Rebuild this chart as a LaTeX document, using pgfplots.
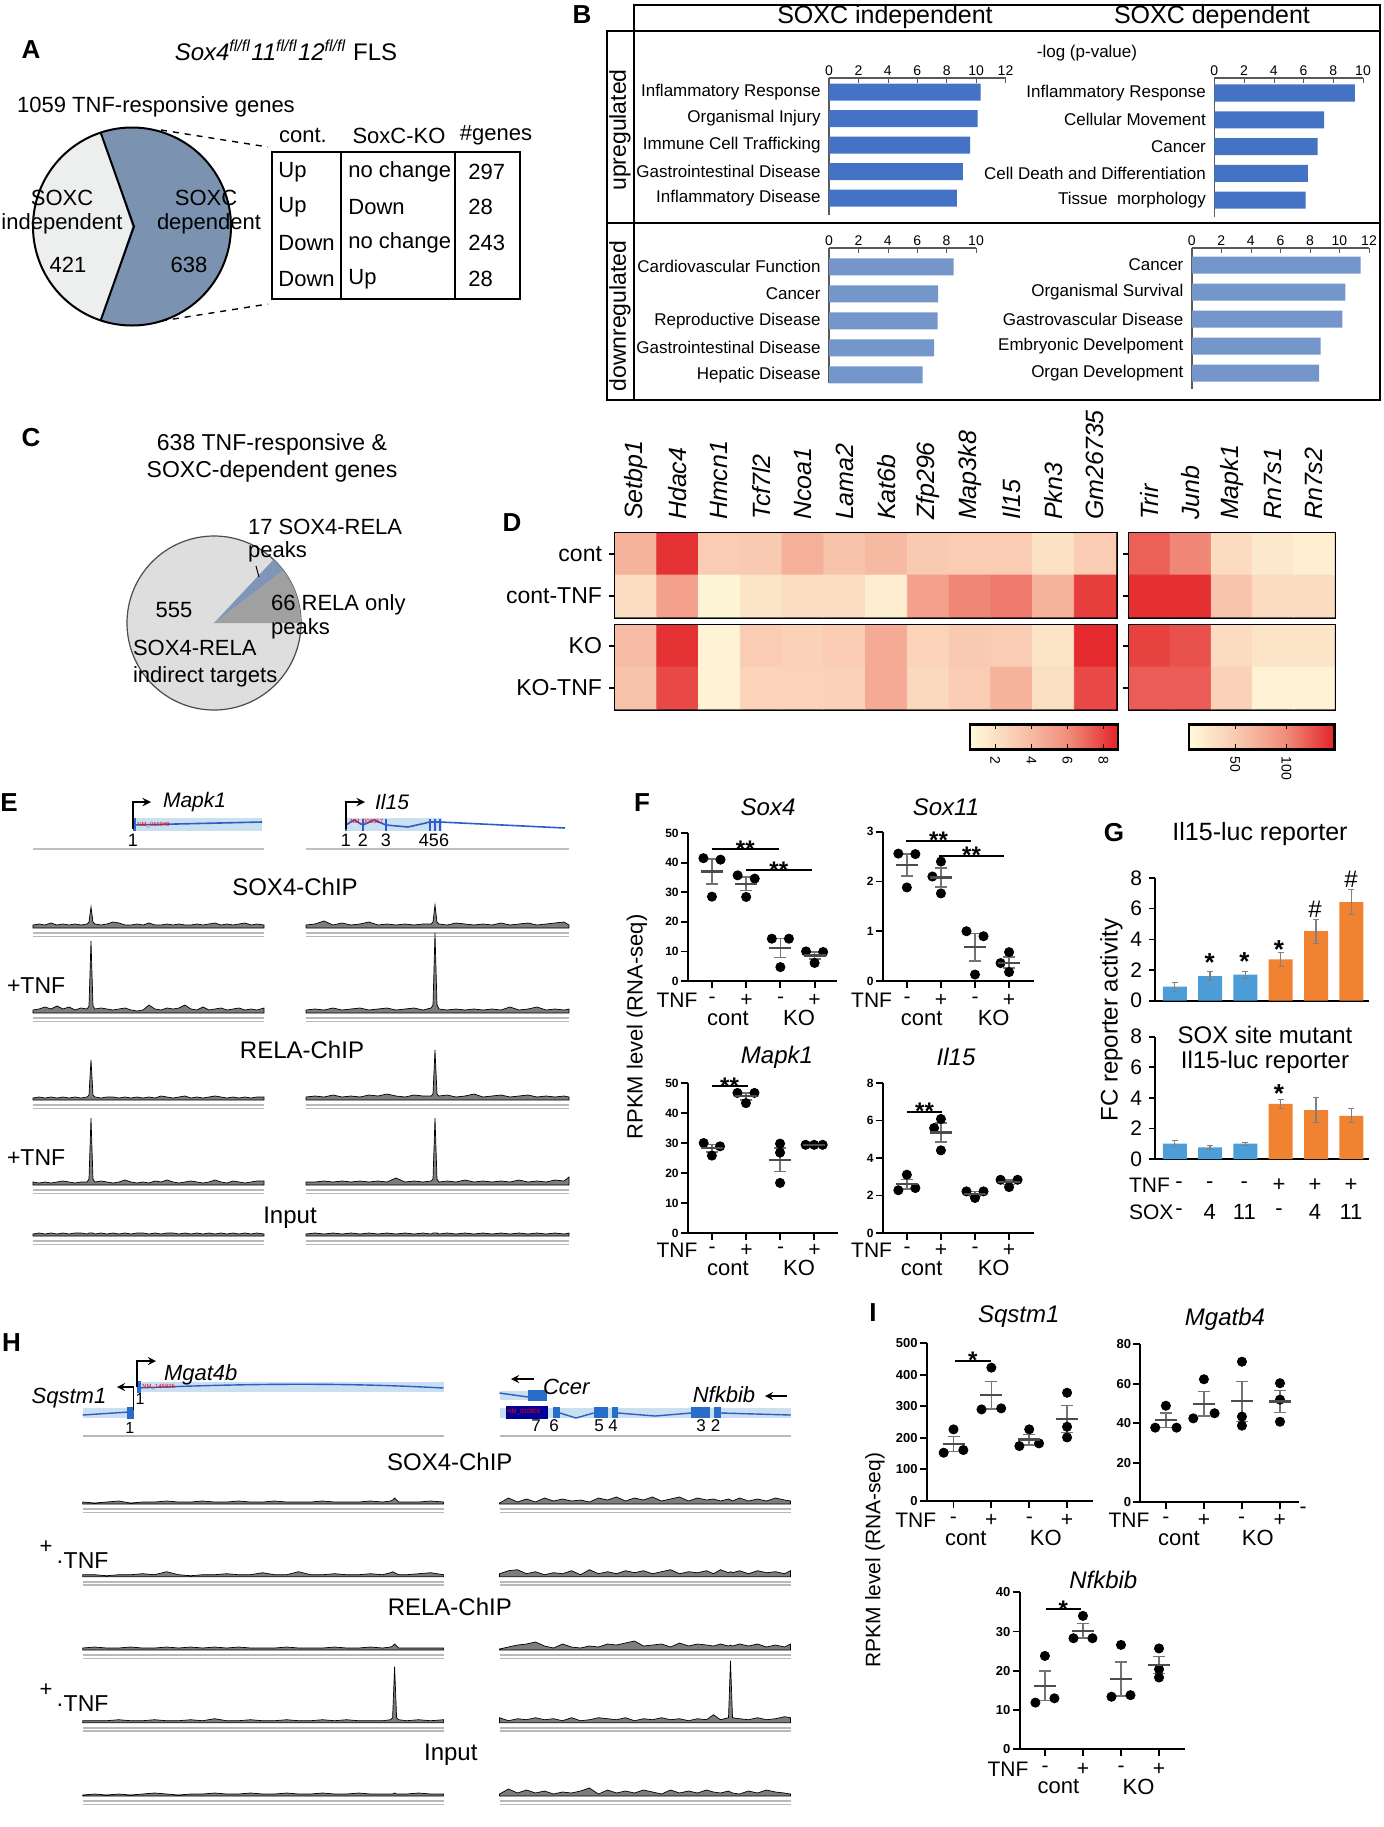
\documentclass[border=0pt]{standalone}
\usepackage{fontspec}
\setmainfont{Liberation Sans}
\usepackage{pgfplots}
\usepackage{pgfplotstable}
\pgfplotsset{compat=1.18}
\pgfkeys{/pgf/number format/assume math mode=true}

\newcommand\fsz[1]{\fontsize{#1}{#1}\selectfont}

\definecolor{pieDark}{RGB}{123,147,176}
\definecolor{pieLight}{RGB}{237,238,238}
\definecolor{cLight}{RGB}{222,222,222}
\definecolor{cGray}{RGB}{160,160,160}
\definecolor{cBlue}{RGB}{127,150,185}
\definecolor{barUp}{RGB}{68,114,196}
\definecolor{barDown}{RGB}{117,150,202}
\definecolor{gBlue}{RGB}{76,157,216}
\definecolor{gOrange}{RGB}{240,130,50}
\definecolor{geneBand}{RGB}{200,224,240}
\definecolor{geneLine}{RGB}{50,90,200}
\definecolor{exon}{RGB}{40,110,200}
\definecolor{trkfill}{RGB}{125,125,125}

\pgfplotsset{
  colormap={heat}{rgb255=(255,250,218) rgb255=(248,200,175) rgb255=(240,140,122) rgb255=(227,35,40)},
  barB/.style={scale only axis, anchor=south west, xbar, bar width=8.5pt, bar shift=0pt,
    xmin=0, axis x line*=top, axis y line*=left,
    axis line style={gray!70!black, line width=0.7pt, -},
    ytick={1,2,3,4,5}, ytick style={draw=none},
    xtick align=inside, major tick length=2.5pt, xtick style={gray!70!black},
    xticklabel style={font=\fsz{7}, inner sep=1pt},
    yticklabel style={font=\fsz{8.5}, inner sep=1.5pt},
    enlargelimits=false, clip=false},
  dot/.style={scale only axis, anchor=south west, axis x line*=bottom, axis y line*=left,
    axis line style={line width=1pt, -}, xtick={0,1,2,3}, xticklabels={},
    tick align=outside, major tick length=3.5pt, tick style={black, line width=0.9pt},
    yticklabel style={font=\bfseries\fsz{6}, inner sep=1pt},
    ymin=0, clip=false, enlargelimits=false},
  pts/.style={only marks, mark=*, mark size=2.3pt, black},
  msem/.style={only marks, mark=-, mark size=5.5pt, mark options={line width=1.1pt, black!70},
    error bars/.cd, y dir=both, y explicit,
    error bar style={line width=0.8pt, black!55},
    error mark options={rotate=90, mark size=3pt, line width=0.8pt, black!55}},
  gbar/.style={scale only axis, anchor=south west, axis x line*=bottom, axis y line*=left,
    axis line style={line width=0.8pt, -}, ymin=0, ymax=8, ytick={0,2,4,6,8},
    xmin=-0.56, xmax=5.5, xtick=\empty, tick align=outside, major tick length=3pt,
    ytick style={black, line width=0.8pt}, yticklabel style={font=\fsz{10.5}},
    enlargelimits=false, clip=false},
  gb/.style={ybar, bar width=12pt, bar shift=0pt, draw=none,
    error bars/.cd, y dir=both, y explicit,
    error bar style={black!50, line width=0.6pt},
    error mark options={rotate=90, black!50, mark size=1.5pt}},
  trk/.style={hide axis, scale only axis, anchor=south west, xmin=0, ymin=0, ymax=80,
    height=40pt, clip=false},
  heat/.style={scale only axis, anchor=south west, enlargelimits=false, xmin=-0.5,
    ymin=-0.5, ymax=1.5, y dir=reverse, axis line style={line width=1.5pt},
    colormap name=heat, ytick={0,1}, ytick pos=left, yticklabel style={font=\fsz{11.5}},
    ytick style={black, line width=0.8pt}, tick align=outside, major tick length=3pt,
    xtick=\empty},
}

% ChIP tracks, heights in pixels
\pgfplotstableread{
x s1 s2 r1 r2 inp
0 3 3 2 3 2
6 4 4 3 2 3
12 3 6 2 3 2
18 5 4 3 2 3
24 3 7 2 3 2
30 4 4 3 4 3
36 3 6 2 3 2
42 4 3 3 2 3
48 3 5 2 3 3
54 4 4 3 3 2
56 6 7 5 6 3
58 21 72 40 67 3
60 6 7 5 6 3
62 4 4 3 3 2
68 3 5 2 4 3
74 4 4 3 3 2
80 6 3 3 2 3
86 5 4 2 3 2
92 3 5 3 5 3
98 3 3 2 3 2
104 4 2 3 2 3
110 3 3 2 3 3
116 5 8 3 2 2
122 3 4 2 4 3
128 3 3 4 3 2
134 4 5 3 5 3
140 3 4 2 3 3
146 4 5 3 2 2
152 3 8 4 3 3
158 3 4 2 4 2
164 4 3 3 3 3
170 3 6 2 2 2
176 4 3 3 3 3
182 5 4 4 5 2
188 3 5 3 3 3
194 4 3 2 2 2
200 3 4 3 4 3
206 4 5 2 3 2
212 5 3 3 2 3
218 3 4 2 3 2
224 4 3 3 4 3
231 3 5 3 4 2
}\EL
\pgfplotstableread{
x s1 s2 r1 r2 inp
0 3 3 3 3 2
9 4 4 4 3 3
18 7 3 3 4 2
27 3 5 5 3 3
36 5 3 3 4 2
45 3 4 4 3 3
54 4 5 3 4 2
63 6 3 5 3 3
72 3 4 4 4 2
81 4 5 6 3 3
90 3 3 4 7 2
99 4 4 3 3 3
108 3 5 5 4 2
117 4 3 4 3 3
125 4 5 4 4 2
127 6 8 6 6 3
129 23 80 50 67 3
131 6 8 6 6 3
133 4 4 4 3 2
141 3 3 5 4 3
150 5 4 3 3 2
159 4 3 4 5 3
168 3 4 6 3 2
177 4 3 3 4 3
186 3 4 4 3 2
195 5 3 5 4 3
204 3 6 3 3 2
213 4 3 4 5 3
222 5 4 5 3 2
231 3 6 3 4 3
240 4 3 4 3 2
249 5 4 3 5 3
258 6 3 4 4 2
263 3 4 3 8 3
}\ER
\pgfplotstableread{
x s1 s2 r1 r2 inp
0 2 2 2 2 1
12 1 2 3 2 2
24 2 1 2 2 1
36 3 2 2 3 2
48 1 2 3 2 1
60 2 3 2 2 2
72 2 2 2 3 3
84 3 5 3 2 2
96 2 2 2 2 1
108 2 1 3 3 2
120 3 2 2 2 2
132 2 2 3 4 3
144 2 3 2 2 2
156 3 2 3 2 2
168 2 2 2 3 3
180 2 4 2 2 2
192 3 2 2 2 2
204 2 2 3 3 3
216 2 5 2 2 2
228 2 2 2 2 2
240 3 2 2 3 3
252 2 3 3 2 2
264 2 2 2 3 2
276 2 2 2 2 3
288 3 3 3 2 2
300 2 2 2 2 2
308 3 4 3 3 2
310 4 5 4 5 2
312 6 4 6 56 3
314 4 3 4 5 2
316 2 2 2 3 2
324 2 2 2 2 2
336 2 3 2 3 3
348 3 4 2 2 2
361 2 2 2 3 2
}\HL
\pgfplotstableread{
x s1 s2 r1 r2 inp
0 1 3 1 5 2
9 6 6 3 2 7
18 2 7 5 4 3
27 5 3 6 3 6
36 2 5 8 5 3
45 6 2 4 3 5
54 3 4 2 4 2
63 5 3 6 2 4
72 3 6 3 5 3
81 4 2 2 2 5
90 2 7 4 3 8
99 6 3 3 5 2
108 4 5 6 4 6
117 7 3 5 3 3
126 3 6 7 5 5
135 6 4 9 2 3
144 4 6 4 4 6
153 7 3 5 3 4
162 3 5 6 5 2
171 5 7 3 3 6
180 7 3 7 4 3
189 3 5 4 2 5
198 6 4 6 4 3
207 4 6 5 3 6
214 5 3 4 8 4
221 3 7 6 3 3
229 5 4 4 5 5
231 4 5 5 62 4
233 3 4 4 5 3
240 6 6 6 4 2
249 3 3 4 3 5
258 5 6 6 5 3
267 3 4 3 3 6
276 6 5 5 4 4
285 4 3 3 6 3
291 3 6 6 5 2
}\HR

% heat map values
\pgfplotstableread{
x y c
0 0 4.3
1 0 8.4
2 0 3.1
3 0 3.2
4 0 4.4
5 0 3.6
6 0 4.0
7 0 3.2
8 0 3.1
9 0 3.1
10 0 1.9
11 0 3.1
0 1 2.2
1 1 5.1
2 1 0.85
3 1 1.8
4 1 2.2
5 1 2.2
6 1 1.3
7 1 5.1
8 1 6.2
9 1 6.5
10 1 4.3
11 1 8.1
}\HLt
\pgfplotstableread{
x y c
0 0 3.9
1 0 8.4
2 0 1.0
3 0 3.1
4 0 2.8
5 0 3.1
6 0 4.7
7 0 2.7
8 0 3.2
9 0 3.1
10 0 1.8
11 0 8.6
0 1 3.6
1 1 7.8
2 1 1.0
3 1 2.7
4 1 2.7
5 1 2.8
6 1 4.7
7 1 2.4
8 1 3.1
9 1 4.3
10 1 2.1
11 1 7.8
}\HLb
\pgfplotstableread{
x y c
0 0 119
1 0 102
2 0 33
3 0 22
4 0 15
0 1 141
1 1 141
2 1 55
3 1 33
4 1 33
}\HRt
\pgfplotstableread{
x y c
0 0 133
1 0 126
2 0 33
3 0 26
4 0 26
0 1 121
1 1 121
2 1 43
3 1 11
4 1 11
}\HRb

\newcommand\track[6]{%
  \begin{axis}[trk, at={({#1*0.5pt},{-#2*0.5pt})}, xmax=#3, width=#4pt]
    \addplot[fill=trkfill, draw=black, line width=0.35pt] table[x=x,y=#6]{#5} \closedcycle;
    \addplot[gray!55, line width=0.8pt] coordinates {(0,-5) (#3,-5)};
    \addplot[gray!55, line width=0.8pt] coordinates {(0,-8.5) (#3,-8.5)};
  \end{axis}}
\newcommand\signs[5]{%
  \node[font=\fsz{10.5}] at (#1,#5) {-};
  \node[font=\fsz{10.5}] at (#2,#5) {+};
  \node[font=\fsz{10.5}] at (#3,#5) {-};
  \node[font=\fsz{10.5}] at (#4,#5) {+};}
\newcommand\sig[4]{%
  \draw[line width=1pt] (#1,#3) -- (#2,#3);
  \node[font=\bfseries\fsz{12}, anchor=base] at ({(#1+#2)/2},{#3+8}) {#4};}

\begin{document}
\begin{tikzpicture}[x=0.5pt,y=-0.5pt]
\useasboundingbox (0,0) rectangle (1383,1827);

% ================= A
\node[font=\bfseries\fsz{13}] at (31,50) {A};
\node[font=\fsz{12}] at (286,50) {\textit{Sox4}\textsuperscript{\textit{fl/fl}}\textit{11}\textsuperscript{\textit{fl/fl}}\textit{12}\textsuperscript{\textit{fl/fl}} FLS};
\node[font=\fsz{11}] at (156,107) {1059 TNF-responsive genes};
\pgfmathsetmacro\aL{180-180*(421/1059)}
\pgfmathsetmacro\aR{180+180*(421/1059)}
\pgfmathsetmacro\aLL{\aL+360}
\begin{axis}[hide axis, scale only axis, anchor=south west, at={({33*0.5pt},{-325.5*0.5pt})}, width=99pt, height=99pt,
  xmin=-1, xmax=1, ymin=-1, ymax=1, clip=false]
  \addplot[draw=none, forget plot] coordinates {(0,0)};
  \fill[pieDark] (0,0) -- ({cos(\aR)},{sin(\aR)}) arc[start angle=\aR, end angle=\aLL, radius=49.5pt] -- cycle;
  \fill[pieLight] (0,0) -- ({cos(\aL)},{sin(\aL)}) arc[start angle=\aL, end angle=\aR, radius=49.5pt] -- cycle;
  \draw[line width=1pt] (0,0) circle[radius=49.5pt];
  \draw[line width=1pt] ({cos(\aL)},{sin(\aL)}) -- (0.02,0) -- ({cos(\aR)},{sin(\aR)});
\end{axis}
\node[font=\fsz{11}] at (62,198) {SOXC};
\node[font=\fsz{11}] at (62,224) {independent};
\node[font=\fsz{11}] at (68,265) {421};
\node[font=\fsz{11}] at (206,198) {SOXC};
\node[font=\fsz{11}] at (209,224) {dependent};
\node[font=\fsz{11}] at (189,265) {638};
\draw[dashed, line width=0.7pt] (161,130) -- (268,147);
\draw[dashed, line width=0.7pt] (161,321) -- (268,304);
\draw[line width=0.9pt] (272,152) rectangle (520,299);
\draw[line width=0.7pt] (341,152) -- (341,299);
\draw[line width=0.7pt] (455,152) -- (455,299);
\node[font=\fsz{11}] at (303,135) {cont.};
\node[font=\fsz{11}] at (399,136) {SoxC-KO};
\node[font=\fsz{11}] at (496,135) {\#genes};
\foreach \yy/\a/\b/\c in {172/Up/no change/297, 207/Up/Down/28, 243/Down/no change/243, 279/Down/Up/28}{
  \node[font=\fsz{11}, anchor=west, inner sep=0pt] at (278,\yy) {\a};
  \node[font=\fsz{11}, anchor=west, inner sep=0pt] at (348,\yy) {\b};
  \node[font=\fsz{11}, anchor=west, inner sep=0pt] at (468,\yy) {\c};
}

% ================= B
\node[font=\bfseries\fsz{13}] at (582,15) {B};
\draw[line width=1pt] (634,5) rectangle (1380,31);
\draw[line width=1pt] (607,31) rectangle (1380,400);
\draw[line width=1pt] (634,31) -- (634,400);
\draw[line width=1pt] (607,223) -- (1380,223);
\node[font=\fsz{12.5}] at (885,17) {SOXC independent};
\node[font=\fsz{12.5}] at (1212,17) {SOXC dependent};
\node[font=\fsz{11.5}, rotate=90] at (620,130) {upregulated};
\node[font=\fsz{11.5}, rotate=90] at (620,316) {downregulated};
\node[font=\fsz{8.5}] at (1087,53) {-log (p-value)};

\begin{axis}[barB, at={({829*0.5pt},{-215*0.5pt})}, width=88.25pt, height=68.5pt, xmax=12, xtick={0,2,...,12},
  ymin=0.36, ymax=5.53,
  yticklabels={Inflammatory Disease,Gastrointestinal Disease,Immune Cell Trafficking,Organismal Injury,Inflammatory Response}]
  \addplot[fill=barUp, draw=none] coordinates {(10.3,5) (10.1,4) (9.6,3) (9.1,2) (8.7,1)};
\end{axis}
\begin{axis}[barB, at={({1214.3*0.5pt},{-216.7*0.5pt})}, width=74.35pt, height=69.35pt, xmax=10, xtick={0,2,...,10},
  ymin=0.38, ymax=5.56,
  yticklabels={Tissue\ \ morphology,Cell Death and Differentiation,Cancer,Cellular Movement,Inflammatory Response}]
  \addplot[fill=barUp, draw=none] coordinates {(9.46,5) (7.38,4) (6.95,3) (6.3,2) (6.14,1)};
\end{axis}
\begin{axis}[barB, at={({829*0.5pt},{-383*0.5pt})}, width=73.5pt, height=67.5pt, xmax=10, xtick={0,2,...,10},
  ymin=0.7, ymax=5.7,
  yticklabels={Hepatic Disease,Gastrointestinal Disease,Reproductive Disease,Cancer,Cardiovascular Function}]
  \addplot[fill=barDown, draw=none] coordinates {(8.47,5) (7.42,4) (7.39,3) (7.15,2) (6.37,1)};
\end{axis}
\begin{axis}[barB, at={({1191.8*0.5pt},{-389*0.5pt})}, width=88.6pt, height=70.5pt, xmax=12, xtick={0,2,...,12},
  ymin=0.41, ymax=5.63,
  yticklabels={Organ Development,Embryonic Develpoment,Gastrovascular Disease,Organismal Survival,Cancer}]
  \addplot[fill=barDown, draw=none] coordinates {(11.43,5) (10.4,4) (10.2,3) (8.72,2) (8.62,1)};
\end{axis}

% ================= C
\node[font=\bfseries\fsz{13}] at (31,438) {C};
\node[font=\fsz{11.5}] at (272,445) {638 TNF-responsive \&};
\node[font=\fsz{11.5}] at (272,472) {SOXC-dependent genes};
\pgfmathsetmacro\cg{360*(66/638)}
\pgfmathsetmacro\cb{\cg+360*(17/638)}
\begin{axis}[hide axis, scale only axis, anchor=south west, at={({127*0.5pt},{-710*0.5pt})}, width=87pt, height=87pt,
  xmin=-1, xmax=1, ymin=-1, ymax=1, clip=false]
  \addplot[draw=none, forget plot] coordinates {(0,0)};
  \fill[cLight, draw=gray!60!black, line width=0.6pt] (0,0) circle[radius=43.5pt];
  \fill[cGray] (0,0) -- (1,0) arc[start angle=0, end angle=\cg, radius=43.5pt] -- cycle;
  \fill[cBlue] (0,0) -- ({cos(\cg)},{sin(\cg)}) arc[start angle=\cg, end angle=\cb, radius=43.5pt] -- cycle;
\end{axis}
\node[font=\fsz{11}, anchor=west] at (241,527) {17 SOX4-RELA};
\node[font=\fsz{11}, anchor=west] at (241,552) {peaks};
\draw[line width=0.5pt] (256,566) -- (259,577);
\node[font=\fsz{11}, anchor=west] at (264,605) {66 RELA only};
\node[font=\fsz{11}, anchor=west] at (264,629) {peaks};
\node[font=\fsz{11}] at (174,610) {555};
\node[font=\fsz{11}, anchor=west] at (126,648) {SOX4-RELA};
\node[font=\fsz{11}, anchor=west] at (126,677) {indirect targets};

% ================= D
\node[font=\bfseries\fsz{13}] at (512,523) {D};
\begin{axis}[heat, at={({615*0.5pt},{-617*0.5pt})}, width=250.5pt, height=42pt, xmax=11.5,
  point meta min=0.6, point meta max=8.8,
  xtick={0,...,11}, xticklabel pos=upper, xtick style={draw=none},
  xticklabels={Setbp1,Hdac4,Hmcn1,Tcf7l2,Ncoa1,Lama2,Kat6b,Zfp296,Map3k8,Il15,Pkn3,Gm26735},
  xticklabel style={rotate=90, anchor=west, font=\itshape\fsz{12.5}},
  yticklabels={cont,cont-TNF}]
  \addplot[matrix plot*, mesh/cols=12, point meta=explicit] table[meta=c]{\HLt};
\end{axis}
\begin{axis}[heat, at={({615*0.5pt},{-709*0.5pt})}, width=250.5pt, height=42pt, xmax=11.5,
  point meta min=0.6, point meta max=8.8, yticklabels={KO,KO-TNF},
  colorbar horizontal,
  colorbar style={at={(parent axis.south west)}, anchor=north west, xshift=177.5pt, yshift=0.8pt,
    width=74pt, height=12.5pt, xtick={2,4,6,8},
    xticklabel style={rotate=-90, anchor=west, font=\fsz{7}},
    axis line style={line width=1.2pt}, tick align=inside, major tick length=2.5pt,
    xtick style={black}}]
  \addplot[matrix plot*, mesh/cols=12, point meta=explicit] table[meta=c]{\HLb};
\end{axis}
\begin{axis}[heat, at={({1129*0.5pt},{-617*0.5pt})}, width=102.75pt, height=42pt, xmax=4.5,
  point meta min=5, point meta max=147,
  xtick={0,...,4}, xticklabel pos=upper, xtick style={draw=none},
  xticklabels={Trir,Junb,Mapk1,Rn7s1,Rn7s2},
  xticklabel style={rotate=90, anchor=west, font=\itshape\fsz{12.5}},
  yticklabels={}]
  \addplot[matrix plot*, mesh/cols=5, point meta=explicit] table[meta=c]{\HRt};
\end{axis}
\begin{axis}[heat, at={({1129*0.5pt},{-709*0.5pt})}, width=102.75pt, height=42pt, xmax=4.5,
  point meta min=5, point meta max=147, yticklabels={},
  colorbar horizontal,
  colorbar style={at={(parent axis.south west)}, anchor=north west, xshift=30pt, yshift=0.8pt,
    width=72.75pt, height=12.5pt, xtick={50,100},
    xticklabel style={rotate=-90, anchor=west, font=\fsz{7}},
    axis line style={line width=1.2pt}, tick align=inside, major tick length=2.5pt,
    xtick style={black}}]
  \addplot[matrix plot*, mesh/cols=5, point meta=explicit] table[meta=c]{\HRb};
\end{axis}

% ================= E
\node[font=\bfseries\fsz{13}] at (9,803) {E};
% Mapk1 gene
\fill[geneBand] (133,818) rectangle (262,831);
\draw[geneLine, line width=0.8pt] (133,825) -- (262,822);
\fill[exon] (133,818) rectangle (136,831);
\node[font=\fsz{3}, text=red, anchor=west, inner sep=0pt] at (137,825) {NM\_011949};
\draw[line width=0.9pt, -stealth] (133,829) -- (133,802) -- (151,802);
\node[font=\itshape\fsz{10.5}, anchor=west] at (156,802) {Mapk1};
\node[font=\fsz{9}] at (133,840) {1};
\draw[gray!50, line width=1pt] (33,849) -- (264,849);
% Il15 gene
\fill[geneBand] (346,818) rectangle (442,831);
\draw[geneLine, line width=0.8pt] (346,825) -- (354,820) -- (363,825) -- (374,820) -- (386,825) -- (408,827) -- (430,822) -- (440,822) -- (565,828);
\draw[geneLine, line width=1pt] (346,819) -- (346,831) (363,819) -- (363,831) (386,819) -- (386,831)
  (430,819) -- (430,831) (435,819) -- (435,831) (440,819) -- (440,831);
\node[font=\fsz{3}, text=red, anchor=west, inner sep=0pt] at (350,822) {NM\_008357};
\draw[line width=0.9pt, -stealth] (346,829) -- (346,802) -- (365,802);
\node[font=\itshape\fsz{10.5}] at (392,802) {Il15};
\node[font=\fsz{9}] at (346,840) {1};
\node[font=\fsz{9}] at (363,840) {2};
\node[font=\fsz{9}] at (386,840) {3};
\node[font=\fsz{9}] at (434,840) {456};
\draw[gray!50, line width=1pt] (306,849) -- (569,849);
\node[font=\fsz{12}] at (295,887) {SOX4-ChIP};
\node[font=\fsz{12}] at (302,1050) {RELA-ChIP};
\node[font=\fsz{12}] at (290,1218) {Input};
\node[font=\fsz{11.5}, anchor=west] at (0,986) {+TNF};
\node[font=\fsz{11.5}, anchor=west] at (0,1158) {+TNF};
\track{33}{928}{231}{115.5}{\EL}{s1}
\track{306}{928}{263}{131.5}{\ER}{s1}
\track{33}{1013}{231}{115.5}{\EL}{s2}
\track{306}{1013}{263}{131.5}{\ER}{s2}
\track{33}{1100}{231}{115.5}{\EL}{r1}
\track{306}{1100}{263}{131.5}{\ER}{r1}
\track{33}{1185}{231}{115.5}{\EL}{r2}
\track{306}{1185}{263}{131.5}{\ER}{r2}
\track{33}{1236}{231}{115.5}{\EL}{inp}
\track{306}{1236}{263}{131.5}{\ER}{inp}

% ================= F
\node[font=\bfseries\fsz{13}] at (642,803) {F};
\node[font=\itshape\fsz{12}] at (768,807) {Sox4};
\node[font=\itshape\fsz{12}] at (946,807) {Sox11};
\node[font=\itshape\fsz{12}] at (777,1057) {Mapk1};
\node[font=\itshape\fsz{12}] at (956,1057) {Il15};
\node[font=\fsz{11}, rotate=90] at (637,1027) {RPKM level (RNA-seq)};

\begin{axis}[dot, at={({688*0.5pt},{-981*0.5pt})}, width=74.25pt, height=74pt, xmin=-0.7, xmax=3.64, ymax=50, ytick={0,10,...,50}]
  \addplot[pts] coordinates {(-0.25,41.5) (0.25,41) (0,28.5) (0.75,35.7) (1.25,34.6) (1,28.4)
    (1.75,14.3) (2.25,14.3) (2,4.7) (2.75,10) (3.25,9.8) (3,6.1)};
  \addplot[msem] coordinates {(0,37.0) +- (0,4.25) (1,32.9) +- (0,2.27) (2,11.1) +- (0,3.2) (3,8.63) +- (0,1.27)};
\end{axis}
\begin{axis}[dot, at={({883*0.5pt},{-981*0.5pt})}, width=75.3pt, height=74.65pt, xmin=-0.7, xmax=3.72, ymax=3, ytick={0,1,2,3}]
  \addplot[pts] coordinates {(-0.25,2.56) (0.25,2.55) (0,1.88) (1,2.4) (0.75,2.1) (1,1.76)
    (1.75,1.0) (2.25,0.9) (2,0.13) (3,0.58) (2.75,0.36) (3,0.18)};
  \addplot[msem] coordinates {(0,2.33) +- (0,0.225) (1,2.08) +- (0,0.188) (2,0.68) +- (0,0.275) (3,0.37) +- (0,0.11)};
\end{axis}
\begin{axis}[dot, at={({688*0.5pt},{-1233*0.5pt})}, width=75pt, height=75pt, xmin=-0.7, xmax=3.7, ymax=50, ytick={0,10,...,50}]
  \addplot[pts] coordinates {(-0.24,30) (0.24,28.9) (0,25.8) (0.75,46.7) (1.25,46.7) (1,43.3)
    (2,29.8) (2,26.8) (2,16.7) (2.75,29.4) (3,29.4) (3.25,29.4)};
  \addplot[msem] coordinates {(0,28.23) +- (0,1.26) (1,45.57) +- (0,1.13) (2,24.43) +- (0,3.96) (3,29.4) +- (0,0.12)};
\end{axis}
\begin{axis}[dot, at={({883*0.5pt},{-1233*0.5pt})}, width=75.3pt, height=75pt, xmin=-0.7, xmax=3.72, ymax=8, ytick={0,2,...,8}]
  \addplot[pts] coordinates {(0,3.11) (-0.25,2.28) (0.25,2.4) (1,6.08) (0.8,5.6) (1,4.41)
    (1.75,2.22) (2.25,2.22) (2,1.87) (2.75,2.84) (3.25,2.84) (3,2.45)};
  \addplot[msem] coordinates {(0,2.6) +- (0,0.26) (1,5.36) +- (0,0.5) (2,2.1) +- (0,0.12) (3,2.71) +- (0,0.13)};
\end{axis}
\sig{712}{778.5}{849}{**}
\sig{745.5}{812}{870}{**}
\sig{906}{971}{840.7}{**}
\sig{939}{1004}{855.7}{**}
\sig{711.5}{747.5}{1086}{**}
\sig{907}{942}{1111.7}{**}
\node[font=\fsz{10.5}] at (677,1000) {TNF};
\signs{712}{746.5}{780.6}{814.6}{1000}
\node[font=\fsz{11}] at (728,1018) {cont};
\node[font=\fsz{11}] at (799,1018) {KO};
\node[font=\fsz{10.5}] at (871.6,1000) {TNF};
\signs{907}{941}{975}{1009}{1000}
\node[font=\fsz{11}] at (921.7,1018) {cont};
\node[font=\fsz{11}] at (993.7,1018) {KO};
\node[font=\fsz{10.5}] at (677,1250) {TNF};
\signs{712}{746.5}{780.6}{814.6}{1250}
\node[font=\fsz{11}] at (728,1268) {cont};
\node[font=\fsz{11}] at (799,1268) {KO};
\node[font=\fsz{10.5}] at (871.6,1250) {TNF};
\signs{907}{941}{975}{1009}{1250}
\node[font=\fsz{11}] at (921.7,1268) {cont};
\node[font=\fsz{11}] at (993.7,1268) {KO};

% ================= G
\node[font=\bfseries\fsz{13}] at (1114,833) {G};
\node[font=\fsz{12.5}] at (1260,834) {Il15-luc reporter};
\node[font=\fsz{12}] at (1265,1035) {SOX site mutant};
\node[font=\fsz{12}] at (1265,1062) {Il15-luc reporter};
\node[font=\fsz{12}, rotate=90] at (1111.5,1020) {FC reporter activity};
\begin{axis}[gbar, at={({1155*0.5pt},{-1000.7*0.5pt})}, width=107pt, height=61.35pt]
  \addplot[fill=gBlue, gb] coordinates {(0,0.92) +- (0,0.3) (1,1.61) +- (0,0.28) (2,1.7) +- (0,0.24)};
  \addplot[fill=gOrange, gb] coordinates {(3,2.7) +- (0,0.44) (4,4.53) +- (0,0.8) (5,6.43) +- (0,0.8)};
\end{axis}
\begin{axis}[gbar, at={({1155*0.5pt},{-1159*0.5pt})}, width=107pt, height=61.15pt]
  \addplot[fill=gBlue, gb] coordinates {(0,1.0) +- (0,0.2) (1,0.76) +- (0,0.15) (2,1.0) +- (0,0.1)};
  \addplot[fill=gOrange, gb] coordinates {(3,3.6) +- (0,0.28) (4,3.2) +- (0,0.8) (5,2.83) +- (0,0.45)};
\end{axis}
\node[font=\bfseries\fsz{13}, anchor=base] at (1209.7,971) {*};
\node[font=\bfseries\fsz{13}, anchor=base] at (1244.4,970) {*};
\node[font=\bfseries\fsz{13}, anchor=base] at (1279,958) {*};
\node[font=\fsz{12}, anchor=base] at (1315,917) {\#};
\node[font=\fsz{12}, anchor=base] at (1351,887) {\#};
\node[font=\bfseries\fsz{13}, anchor=base] at (1279,1102.7) {*};
\node[font=\fsz{10.5}, anchor=west] at (1122,1185) {TNF};
\node[font=\fsz{10.5}, anchor=west] at (1122,1212) {SOX};
\foreach \xx/\t/\s in {1179/-/-, 1209.7/-/4, 1244.4/-/11, 1279/+/-, 1315/+/4, 1351/+/11}{
  \node[font=\fsz{11}] at (\xx,1185) {\t};
  \node[font=\fsz{11}] at (\xx,1212) {\s};
}

% ================= H
\node[font=\bfseries\fsz{13}] at (11.5,1343) {H};
\draw[gray!55, line width=1pt] (82.6,1436) -- (443.5,1436);
\fill[geneBand] (82.6,1408) rectangle (133.4,1418);
\draw[geneLine, line width=0.7pt] (82.6,1415) -- (129,1412);
\fill[exon] (127,1407) rectangle (134,1419);
\node[font=\fsz{8}] at (129.7,1428) {1};
\node[font=\itshape\fsz{11}] at (69,1398) {Sqstm1};
\draw[line width=0.8pt, -stealth] (133.4,1410) -- (133.4,1387) -- (117,1387);
\fill[geneBand] (137,1382) rectangle (443.5,1392);
\draw[geneLine, line width=0.7pt] (137,1388) .. controls (260,1383) and (350,1383) .. (443.5,1388);
\fill[exon] (137,1381) rectangle (141,1393);
\node[font=\fsz{3}, text=red, anchor=west, inner sep=0pt] at (142,1387) {NM\_145926};
\draw[line width=0.8pt, -stealth] (137,1387) -- (137,1361) -- (156,1361);
\node[font=\itshape\fsz{11}, anchor=west] at (157,1375) {Mgat4b};
\node[font=\fsz{8}] at (140,1399) {1};
\draw[gray!55, line width=1pt] (499.5,1436) -- (790.8,1436);
\fill[geneBand] (499.5,1391) rectangle (546.6,1400);
\draw[geneLine, line width=0.7pt] (499.5,1393) -- (528,1397);
\fill[exon] (528,1390) rectangle (547,1401);
\draw[line width=0.8pt, -stealth] (533.5,1379) -- (511,1379);
\node[font=\itshape\fsz{11}, anchor=west] at (536,1387) {Ccer};
\fill[geneBand] (499.5,1408) rectangle (790.8,1418);
\draw[geneLine, line width=0.7pt] (560,1413) -- (576,1418) -- (593.6,1413) (618,1413) -- (655,1416) -- (691,1413) (721,1413) -- (790.8,1415);
\fill[blue!60!black] (506,1406) rectangle (548,1419);
\node[font=\fsz{3}, text=red, anchor=west, inner sep=0pt] at (507,1412) {NM\_010908};
\fill[exon] (553,1407) rectangle (560,1418);
\fill[exon] (593.6,1407) rectangle (607.7,1418);
\fill[exon] (612,1407) rectangle (618,1418);
\fill[exon] (691,1407) rectangle (710,1418);
\fill[exon] (714,1407) rectangle (721,1418);
\foreach \xx/\n in {536/7, 554/6, 599/5, 613/4, 701/3, 715.5/2}{
  \node[font=\fsz{8.5}] at (\xx,1426) {\n};
}
\node[font=\itshape\fsz{11}] at (724,1395) {Nfkbib};
\draw[line width=0.8pt, -stealth] (787,1396) -- (765,1396);
\node[font=\fsz{12}] at (449.8,1461.7) {SOX4-ChIP};
\node[font=\fsz{12}] at (449.8,1606.7) {RELA-ChIP};
\node[font=\fsz{12}] at (450.8,1755) {Input};
\node[font=\fsz{11}] at (46,1546.7) {+};
\node[font=\fsz{11.5}, anchor=west] at (49,1561) {·TNF};
\node[font=\fsz{11}] at (46,1690) {+};
\node[font=\fsz{11.5}, anchor=west] at (49,1704) {·TNF};
\track{82.6}{1504}{361}{180.5}{\HL}{s1}
\track{499.5}{1504}{291}{145.5}{\HR}{s1}
\track{82.6}{1576.7}{361}{180.5}{\HL}{s2}
\track{499.5}{1576.7}{291}{145.5}{\HR}{s2}
\track{82.6}{1650}{361}{180.5}{\HL}{r1}
\track{499.5}{1650}{291}{145.5}{\HR}{r1}
\track{82.6}{1722.7}{361}{180.5}{\HL}{r2}
\track{499.5}{1722.7}{291}{145.5}{\HR}{r2}
\track{82.6}{1796}{361}{180.5}{\HL}{inp}
\track{499.5}{1796}{291}{145.5}{\HR}{inp}

% ================= I
\node[font=\bfseries\fsz{13}] at (873,1313) {I};
\node[font=\itshape\fsz{12}] at (1018.7,1317) {Sqstm1};
\node[font=\itshape\fsz{12}] at (1225,1319) {Mgatb4};
\node[font=\itshape\fsz{12}] at (1103.3,1580) {Nfkbib};
\node[font=\fsz{10.5}, rotate=90] at (875,1560) {RPKM level (RNA-seq)};
\begin{axis}[dot, at={({927*0.5pt},{-1500.7*0.5pt})}, width=82.9pt, height=78.7pt, xmin=-0.7, xmax=3.68, ymax=500,
  ytick={0,100,...,500}, yticklabel style={font=\bfseries\fsz{6.5}}]
  \addplot[pts] coordinates {(0,226.7) (-0.26,152.5) (0.26,161) (1,422.7) (0.74,290) (1.26,293.4)
    (2,226.7) (1.74,173.7) (2.26,182.2) (3,343) (3,235) (3,201)};
  \addplot[msem] coordinates {(0,180.1) +- (0,23.5) (1,335.4) +- (0,43.7) (2,194.2) +- (0,16.4) (3,259.7) +- (0,42.8)};
\end{axis}
\begin{axis}[dot, at={({1140.4*0.5pt},{-1502.3*0.5pt})}, width=79.3pt, height=79pt, xmin=-0.67, xmax=3.5, ymax=80,
  ytick={0,20,...,80}, yticklabel style={font=\bfseries\fsz{6.5}}]
  \addplot[pts] coordinates {(0,48.9) (-0.28,37.8) (0.28,37.8) (1,62.3) (0.72,42.5) (1.28,45.1)
    (2,71.2) (2,43.4) (2,38.8) (3,60.3) (3,52) (3,40.8)};
  \addplot[msem] coordinates {(0,41.5) +- (0,3.7) (1,49.97) +- (0,6.21) (2,51.13) +- (0,10.12) (3,51.03) +- (0,5.65)};
\end{axis}
\begin{axis}[dot, at={({1019.8*0.5pt},{-1749.3*0.5pt})}, width=82.35pt, height=78.5pt, xmin=-0.66, xmax=3.67, ymax=40,
  ytick={0,10,...,40}, yticklabel style={font=\bfseries\fsz{6.5}}]
  \addplot[pts] coordinates {(0,23.8) (-0.25,11.9) (0.25,13) (1,34) (0.75,28.3) (1.25,28.3)
    (2,26.6) (1.75,13.4) (2.25,13.8) (3,25.7) (3,20.4) (3,18.3)};
  \addplot[msem] coordinates {(0,16.23) +- (0,3.8) (1,30.2) +- (0,1.9) (2,17.93) +- (0,4.34) (3,21.47) +- (0,2.2)};
\end{axis}
\sig{955}{990.5}{1360.7}{*}
\sig{1045.8}{1081}{1609.3}{*}
\node[font=\fsz{10.5}] at (915.7,1520) {TNF};
\signs{953.4}{991.2}{1029.3}{1067}{1520}
\node[font=\fsz{11}] at (965.8,1538.3) {cont};
\node[font=\fsz{11}] at (1045.8,1538.3) {KO};
\node[font=\fsz{10.5}] at (1129,1520) {TNF};
\signs{1165.8}{1203.9}{1241.6}{1279.7}{1520}
\node[font=\fsz{11}] at (1179,1538.3) {cont};
\node[font=\fsz{11}] at (1257.8,1538.3) {KO};
\node[font=\fsz{10.5}] at (1303,1510) {-};
\node[font=\fsz{10.5}] at (1008,1769.3) {TNF};
\signs{1045}{1082.9}{1121}{1159}{1769.3}
\node[font=\fsz{11}] at (1058.5,1786.7) {cont};
\node[font=\fsz{11}] at (1138.6,1786.7) {KO};

\end{tikzpicture}
\end{document}
